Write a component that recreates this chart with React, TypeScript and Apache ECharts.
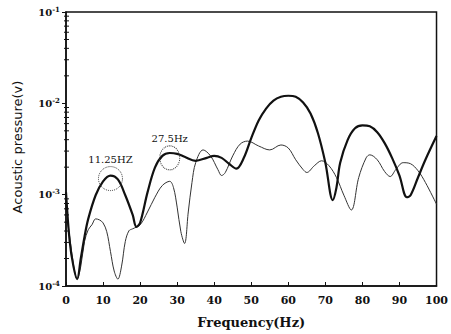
import React, { useEffect, useRef } from "react";
import * as echarts from "echarts";

// Thick curve (frequency Hz, pressure V)
const thickFreq = [0, 1, 2, 3, 4, 5, 6, 8, 10, 12, 14, 16, 18, 19, 20, 22, 24, 26, 28, 30, 32, 35, 38, 40, 42, 44, 46, 48, 50, 52, 54, 56, 58, 60, 62, 64, 66, 68, 70, 72, 73, 74, 76, 78, 80, 82, 84, 86, 88, 90, 92, 93, 95, 97, 100];
const thickVal = [1.06e-3, 3.07e-4, 1.65e-4, 1.19e-4, 2.01e-4, 3.47e-4, 5.43e-4, 9.86e-4, 1.40e-3, 1.62e-3, 1.47e-3, 9.86e-4, 6.0e-4, 4.45e-4, 4.91e-4, 1.06e-3, 1.98e-3, 2.66e-3, 2.86e-3, 2.80e-3, 2.60e-3, 2.35e-3, 2.53e-3, 2.66e-3, 2.53e-3, 2.18e-3, 1.93e-3, 2.53e-3, 4.16e-3, 6.50e-3, 8.77e-3, 1.07e-2, 1.18e-2, 1.21e-2, 1.18e-2, 1.02e-2, 7.74e-3, 4.71e-3, 2.24e-3, 8.71e-4, 1.20e-3, 2.24e-3, 3.96e-3, 5.33e-3, 5.74e-3, 5.61e-3, 4.83e-3, 3.67e-3, 2.53e-3, 1.62e-3, 9.37e-4, 9.86e-4, 1.54e-3, 2.41e-3, 4.38e-3];

// Thin curve
const thinFreq = [0, 1, 2, 3, 4, 5, 6, 7, 8, 9, 10, 11, 12, 13, 14, 15, 16, 17, 18, 20, 22, 24, 26, 28, 29, 30, 31, 32, 33, 34, 35, 37, 39, 41, 42, 43, 45, 47, 49, 52, 55, 58, 60, 62, 64, 65, 67, 69, 71, 73, 75, 77, 79, 81, 82, 84, 86, 87.5, 89, 91, 93, 95, 97, 100];
const thinVal = [6.46e-4, 3.47e-4, 1.73e-4, 1.19e-4, 1.65e-4, 3.07e-4, 4.13e-4, 4.68e-4, 5.43e-4, 5.30e-4, 4.91e-4, 3.93e-4, 2.39e-4, 1.46e-4, 1.19e-4, 1.65e-4, 3.07e-4, 4.03e-4, 4.23e-4, 4.68e-4, 6.46e-4, 9.37e-4, 1.26e-3, 1.40e-3, 1.20e-3, 7.31e-4, 3.93e-4, 2.92e-4, 6.46e-4, 1.36e-3, 2.24e-3, 3.09e-3, 2.66e-3, 1.88e-3, 1.62e-3, 1.75e-3, 2.66e-3, 3.58e-3, 3.86e-3, 3.41e-3, 3.09e-3, 3.50e-3, 3.24e-3, 2.41e-3, 1.88e-3, 1.75e-3, 2.07e-3, 2.35e-3, 2.07e-3, 1.54e-3, 9.86e-4, 6.79e-4, 1.54e-3, 2.53e-3, 2.73e-3, 2.41e-3, 1.79e-3, 1.58e-3, 1.88e-3, 2.24e-3, 2.18e-3, 1.83e-3, 1.36e-3, 7.87e-4];

// Annotated peaks
const peakLabels = ["11.25HZ", "27.5Hz"];
const peakFreq = [12, 28];
const peakVal = [1.5e-3, 2.53e-3];

// Minor log ticks on the y axis
const minorTickVals = [
  2e-4, 3e-4, 4e-4, 5e-4, 6e-4, 7e-4, 8e-4, 9e-4,
  2e-3, 3e-3, 4e-3, 5e-3, 6e-3, 7e-3, 8e-3, 9e-3,
  2e-2, 3e-2, 4e-2, 5e-2, 6e-2, 7e-2, 8e-2, 9e-2,
];

const FONT = "DejaVu Serif";

export default function App() {
  const ref = useRef<HTMLDivElement>(null);
  useEffect(() => {
    if (!ref.current) return;
    const chart = echarts.init(ref.current, undefined, { renderer: "svg" });
    const thick = thickFreq.map((f, i) => [f, thickVal[i]]);
    const thin = thinFreq.map((f, i) => [f, thinVal[i]]);
    const sizes = [[24, 24], [20, 24]];
    chart.setOption({
      animation: false,
      backgroundColor: "#fff",
      grid: {
        left: 66,
        right: 11,
        top: 12,
        bottom: 44,
        show: true,
        borderColor: "#111",
        borderWidth: 1.5,
      },
      xAxis: {
        type: "value",
        min: 0,
        max: 100,
        interval: 10,
        name: "Frequency(Hz)",
        nameLocation: "middle",
        nameGap: 30,
        nameTextStyle: { fontFamily: FONT, fontSize: 13, fontWeight: "bold", color: "#111" },
        axisLine: { lineStyle: { color: "#111", width: 1.5 } },
        axisTick: { inside: true, length: 4, lineStyle: { color: "#111" } },
        axisLabel: { fontFamily: FONT, fontSize: 11, fontWeight: "bold", color: "#111", margin: 9 },
        splitLine: { show: false },
      },
      yAxis: {
        type: "log",
        min: 1e-4,
        max: 1e-1,
        logBase: 10,
        axisLine: { show: true, lineStyle: { color: "#111", width: 1.5 } },
        axisTick: { show: true, inside: false, length: 4, lineStyle: { color: "#111" } },
        axisLabel: {
          fontFamily: FONT,
          fontSize: 10,
          fontWeight: "bold",
          color: "#111",
          margin: 6,
          formatter: (v: number) => {
            const e = Math.round(Math.log10(v));
            return "10{sup|" + e + "}";
          },
          rich: {
            sup: { fontFamily: FONT, fontSize: 7, fontWeight: "bold", color: "#111", verticalAlign: "top", padding: [0, 0, 6, 0] },
          },
        },
        splitLine: { show: false },
      },
      graphic: [
        {
          type: "text",
          x: 17,
          y: 147,
          rotation: Math.PI / 2,
          style: {
            text: "Acoustic pressure(v)",
            fontFamily: "DejaVu Sans",
            fontSize: 13,
            fill: "#111",
            align: "center",
            verticalAlign: "middle",
          },
        },
      ],
      series: [
        {
          type: "line",
          data: thin,
          smooth: 0.35,
          symbol: "none",
          lineStyle: { color: "#333", width: 1 },
          z: 2,
        },
        {
          type: "line",
          data: thick,
          smooth: 0.35,
          symbol: "none",
          lineStyle: { color: "#111", width: 2.2 },
          z: 3,
          markPoint: {
            symbol: "circle",
            silent: true,
            data: peakFreq.map((f, i) => ({
              coord: [f, peakVal[i]],
              symbolSize: sizes[i],
              itemStyle: { color: "rgba(0,0,0,0)", borderColor: "#333", borderWidth: 1, borderType: "dotted" },
              label: {
                show: true,
                position: "top",
                distance: 2,
                formatter: peakLabels[i],
                fontFamily: FONT,
                fontSize: 10,
                color: "#111",
              },
            })),
          },
        },
        {
          type: "custom",
          silent: true,
          data: minorTickVals.map((v) => [0, v]),
          renderItem: (params: any, api: any) => {
            const p = api.coord([0, api.value(1)]);
            return {
              type: "line",
              shape: { x1: p[0] - 2, y1: p[1], x2: p[0] + 3, y2: p[1] },
              style: { stroke: "#111", lineWidth: 1 },
            };
          },
          z: 5,
        },
      ],
    });
    return () => chart.dispose();
  }, []);
  return (
    <div
      ref={ref}
      style={{ position: "fixed", left: 0, top: 0, width: 451, height: 334, background: "#fff" }}
    />
  );
}
